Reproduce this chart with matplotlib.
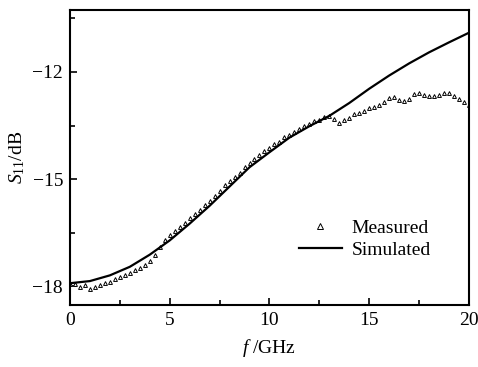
import matplotlib
matplotlib.use('Agg')
import matplotlib.pyplot as plt
import numpy as np

# simulated S11 (dB), 1 GHz steps
SIM_FREQ = np.arange(0, 21, 1.0)
SIM_S11 = [-17.92, -17.86, -17.70, -17.46, -17.12, -16.72, -16.25, -15.75, -15.21, -14.67,
           -14.25, -13.84, -13.52, -13.23, -12.87, -12.47, -12.10, -11.76, -11.45, -11.17, -10.90]

# measured S11 (dB), 0.25 GHz steps
MEAS_FREQ = np.arange(0, 20.01, 0.25)
MEAS_S11 = [-17.93, -17.95, -18.02, -17.98, -18.08, -18.02, -17.96, -17.92, -17.88, -17.80,
            -17.74, -17.69, -17.62, -17.55, -17.48, -17.40, -17.30, -17.12, -16.90, -16.72,
            -16.58, -16.45, -16.34, -16.22, -16.08, -15.98, -15.86, -15.72, -15.62, -15.48,
            -15.33, -15.18, -15.06, -14.93, -14.82, -14.66, -14.55, -14.44, -14.34, -14.22,
            -14.13, -14.03, -13.95, -13.83, -13.76, -13.68, -13.60, -13.52, -13.45, -13.38,
            -13.34, -13.25, -13.22, -13.32, -13.42, -13.35, -13.28, -13.18, -13.15, -13.08,
            -13.02, -12.97, -12.93, -12.85, -12.72, -12.70, -12.78, -12.80, -12.76, -12.62,
            -12.60, -12.65, -12.68, -12.66, -12.64, -12.60, -12.58, -12.66, -12.76, -12.84,
            -12.92]

plt.rcParams['font.family'] = ['Liberation Serif', 'DejaVu Serif']
plt.rcParams['mathtext.fontset'] = 'custom'
plt.rcParams['mathtext.rm'] = 'Liberation Serif'
plt.rcParams['mathtext.it'] = 'Liberation Serif:italic'

fig = plt.figure(figsize=(4.78, 3.67), dpi=100)
ax = fig.add_axes([0.1464, 0.169, 0.8346, 0.804])

ax.plot(MEAS_FREQ, MEAS_S11, linestyle='none', marker='^', markersize=2.8,
        markerfacecolor='white', markeredgecolor='black', markeredgewidth=0.7,
        label='Measured')
ax.plot(SIM_FREQ, SIM_S11, color='black', linewidth=1.6, label='Simulated')

ax.set_xlim(0, 20)
ax.set_ylim(-18.53, -10.26)
ax.set_xticks([0, 5, 10, 15, 20])
ax.set_xticks([2.5, 7.5, 12.5, 17.5], minor=True)
ax.set_yticks([-18, -15, -12])
ax.set_yticks([-16.5, -13.5, -10.5], minor=True)
ax.tick_params(which='both', direction='in', top=False, right=False, labelsize=14, width=1.2)
ax.tick_params(which='major', length=5, pad=5)
ax.tick_params(which='minor', length=3.5)
for s in ax.spines.values():
    s.set_linewidth(1.5)

ax.set_xlabel(r'$f$ /GHz', fontsize=14, labelpad=6)
ax.set_ylabel(r'$S_{11}$/dB', fontsize=14, labelpad=4)

ax.legend(loc='upper left', bbox_to_anchor=(0.53, 0.35), frameon=False, fontsize=14,
          handlelength=2.2, handletextpad=0.5, labelspacing=0.25, markerscale=1.3)

fig.savefig('out.png', dpi=100)
